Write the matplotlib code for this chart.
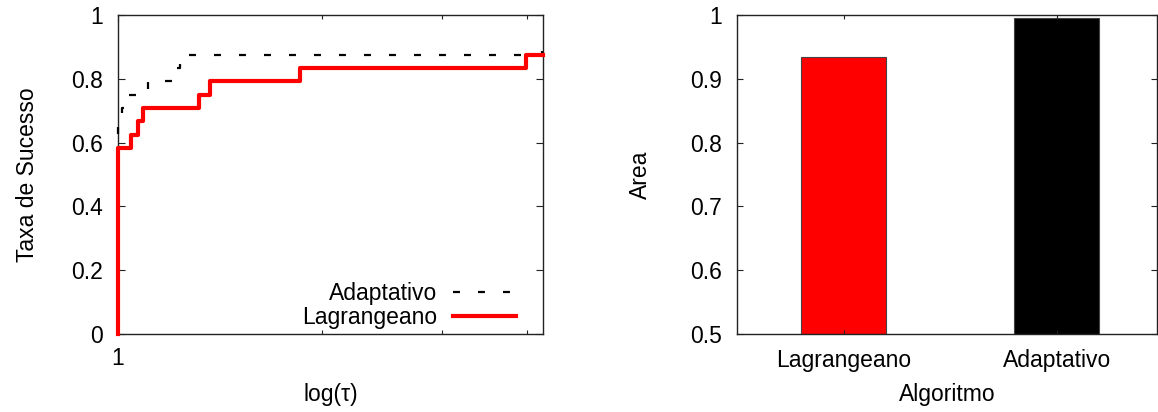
import matplotlib
matplotlib.use("Agg")
import matplotlib.pyplot as plt
from matplotlib.ticker import FixedLocator, NullFormatter, FormatStrFormatter

plt.rcParams['font.family'] = ['Liberation Sans', 'DejaVu Sans']
plt.rcParams['lines.scale_dashes'] = False

# ---- data: performance profile ----
lagr_tau = [1.0, 1.0, 1.045, 1.070, 1.088, 1.316, 1.366, 1.853, 3.99, 4.23]
lagr_rate = [0.0, 0.5833, 0.625, 0.6667, 0.7083, 0.75, 0.7917, 0.8333, 0.875, 0.875]
adap_tau = [1.0, 1.0, 1.014, 1.034, 1.107, 1.201, 1.234, 4.22, 4.23]
adap_rate = [0.0, 0.6667, 0.7083, 0.75, 0.7917, 0.8333, 0.875, 0.9167, 0.9167]

# ---- data: area ----
algorithms = ["Lagrangeano", "Adaptativo"]
areas = [0.934, 0.995]
bar_colors = ["#ff0000", "#000000"]

FS = 16.5
fig = plt.figure(figsize=(11.58, 4.12), dpi=100)

# ---------- left plot ----------
ax1 = fig.add_axes([0.1019, 0.1893, 0.3670, 0.7743])
ax1.plot(adap_tau, adap_rate, drawstyle='steps-post', color='black', lw=1.6,
         dashes=(5, 13), label='Adaptativo', clip_on=False, zorder=3)
ax1.plot(lagr_tau, lagr_rate, drawstyle='steps-post', color='#ff0000', lw=3.0,
         label='Lagrangeano', clip_on=False, zorder=3)
ax1.set_xscale('log')
ax1.set_xlim(1.0, 4.23)
ax1.set_ylim(0, 1)
ax1.xaxis.set_major_locator(FixedLocator([1]))
ax1.xaxis.set_major_formatter(FormatStrFormatter('%g'))
ax1.xaxis.set_minor_locator(FixedLocator([2, 3, 4]))
ax1.xaxis.set_minor_formatter(NullFormatter())
ax1.yaxis.set_major_locator(FixedLocator([0, 0.2, 0.4, 0.6, 0.8, 1.0]))
ax1.yaxis.set_major_formatter(FormatStrFormatter('%g'))
ax1.tick_params(axis='both', which='both', direction='in', top=True, right=True,
                labelsize=FS, color='#222222')
ax1.tick_params(axis='y', which='major', length=5, width=0.8, pad=11)
ax1.tick_params(axis='x', which='major', length=5, width=0.8, pad=9)
ax1.tick_params(axis='x', which='minor', length=3, width=0.8)
for s in ax1.spines.values():
    s.set_color('#222222')
    s.set_linewidth(1.0)
ax1.set_ylabel('Taxa de Sucesso', fontsize=FS)
ax1.yaxis.set_label_coords(-0.214, 0.5)
ax1.yaxis.label.set_verticalalignment('center')
ax1.set_xlabel('log(τ)', fontsize=FS)
ax1.xaxis.set_label_coords(0.5, -0.19)
ax1.xaxis.label.set_verticalalignment('center')
ax1.legend(loc='lower right', bbox_to_anchor=(0.9365, 0.015), frameon=False,
           markerfirst=False, fontsize=FS, handlelength=2.75, handletextpad=0.7,
           labelspacing=0.05, borderpad=0, borderaxespad=0)

# ---------- right plot ----------
ax2 = fig.add_axes([0.6364, 0.1893, 0.3627, 0.7743])
xpos = list(range(len(algorithms)))
ax2.bar(xpos, [a - 0.5 for a in areas], bottom=0.5, width=0.4, color=bar_colors,
        edgecolor='#444444', linewidth=0.8)
ax2.set_xlim(-0.5, 1.47)
ax2.set_ylim(0.5, 1.0)
ax2.set_xticks(xpos)
ax2.set_xticklabels(algorithms)
ax2.yaxis.set_major_locator(FixedLocator([0.5, 0.6, 0.7, 0.8, 0.9, 1.0]))
ax2.yaxis.set_major_formatter(FormatStrFormatter('%g'))
ax2.tick_params(axis='both', which='both', direction='in', top=True, right=True,
                labelsize=FS, color='#222222')
ax2.tick_params(axis='y', length=4, width=0.8, pad=11)
ax2.tick_params(axis='x', length=3, width=0.8, pad=11)
for s in ax2.spines.values():
    s.set_color('#222222')
    s.set_linewidth(1.0)
ax2.set_ylabel('Area', fontsize=FS)
ax2.yaxis.set_label_coords(-0.229, 0.5)
ax2.yaxis.label.set_verticalalignment('center')
ax2.set_xlabel('Algoritmo', fontsize=FS)
ax2.xaxis.set_label_coords(0.5, -0.19)
ax2.xaxis.label.set_verticalalignment('center')

fig.savefig('out.png', dpi=100)
